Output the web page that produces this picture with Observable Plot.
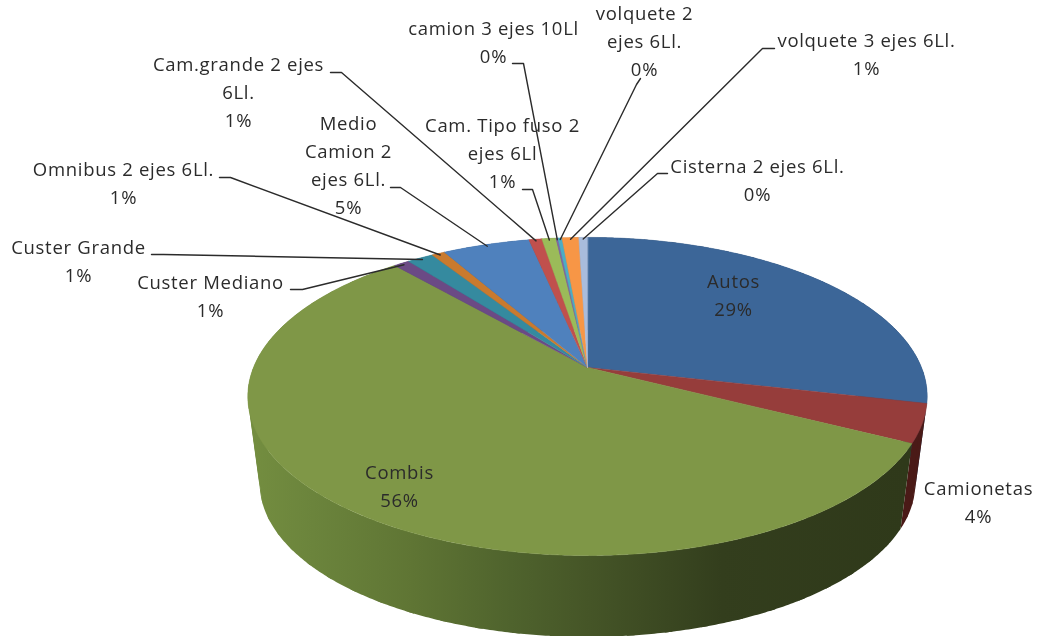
<!DOCTYPE html>
<html>
<head>
<meta charset="utf-8">
<script src="https://cdn.jsdelivr.net/npm/d3@7"></script>
<script src="https://cdn.jsdelivr.net/npm/@observablehq/plot@0.6"></script>
<style>
html,body{margin:0;padding:0;background:#fff}
svg{display:block}
</style>
</head>
<body>
<div id="chart"></div>
<script>
const categories = ["Autos","Camionetas","Combis","Custer Mediano","Custer Grande","Omnibus 2 ejes 6Ll.","Medio Camion 2 ejes 6Ll.","Cam.grande 2 ejes 6Ll.","Cam. Tipo fuso 2 ejes 6Ll","camion 3 ejes 10Ll","volquete 2 ejes 6Ll.","volquete 3 ejes 6Ll.","Cisterna 2 ejes 6Ll."];
const shares = [28.6,3.9,56.1,0.9,1.49,0.75,4.95,0.73,0.8,0.11,0.23,0.95,0.49];
const percentLabels = ["29%","4%","56%","1%","1%","1%","5%","1%","1%","0%","0%","1%","0%"];
const labelLines = [["Autos"],["Camionetas"],["Combis"],["Custer Mediano"],["Custer Grande"],["Omnibus 2 ejes 6Ll."],["Medio","Camion 2","ejes 6Ll."],["Cam.grande 2 ejes","6Ll."],["Cam. Tipo fuso 2","ejes 6Ll"],["camion 3 ejes 10Ll"],["volquete 2","ejes 6Ll."],["volquete 3 ejes 6Ll."],["Cisterna 2 ejes 6Ll."]];
const topColors = ["#3c6698","#963d3b","#7f9747","#6b4a85","#358a9f","#c97a2e","#4f81bd","#c0504d","#9bbb59","#8064a2","#4bacc6","#f79646","#a9bcdc"];
const sideColors = ["#27405f","#4a1a17","url(#combisSide)","#43305a","#235a68","#7f4d1d","#32527a","#7a3331","#627638","#514068","#2f6d7e","#9c5f2c","#6b778c"];

// label placement (block centre) and leader-line elbows, in chart pixels
const labelX = [733,978,399,210,78,123,348,238,502,493,644,866,757];
const labelY = [296,503,487,297,262,184,166,93,154,43,42,55,181];
const leaderPaths = [null,null,null,[[290,289],[302,289]],[[151,254],[163,254]],[[219,177],[230,177]],[[390,187],[400,187]],[[330,72],[341,72]],[[522,189],[532,189]],[[512,63],[523,63]],[[640,78],[636,84]],[[774,48],[762,48]],[[667,173],[657,173]]];

// pie geometry: a disc seen in perspective
const cx = 587, cy = 367, a = 334, b = 153.8, k = 0.182, depthScale = 0.965, vanishY = 2880;
const project = (t, r = 1) => {
  const u = r * Math.sin(t), v = -r * Math.cos(t), w = 1 - k * v;
  return [cx + a * u / w, cy + b * v / w];
};
const lower = ([x, y]) => [cx + depthScale * (x - cx), vanishY + depthScale * (y - vanishY)];

const total = d3.sum(shares);
const ends = Array.from(d3.cumsum(shares), (s) => (s / total) * 2 * Math.PI);
const slices = categories.map((name, i) => ({name, i, t0: i ? ends[i - 1] : 0, t1: ends[i]}));
const arc = (t0, t1, step = 0.008) => {
  const n = Math.max(2, Math.ceil((t1 - t0) / step));
  return d3.range(n + 1).map((j) => t0 + (t1 - t0) * j / n);
};

const topRows = slices.flatMap((s) => [[cx, cy], ...arc(s.t0, s.t1).map((t) => project(t))]
  .map(([x, y]) => ({x, y, name: s.name, color: topColors[s.i]})));

// the side wall is cut into opaque overlapping sections so its fold at the silhouette still fills
const sectionSpan = 0.1, sectionOverlap = 0.02;
const sideRows = slices.flatMap((s) => {
  const count = Math.max(1, Math.ceil((s.t1 - s.t0) / sectionSpan));
  return d3.range(count).flatMap((j) => {
    const p = s.t0 + (s.t1 - s.t0) * j / count;
    const q = Math.min(s.t1, s.t0 + (s.t1 - s.t0) * (j + 1) / count + sectionOverlap);
    const rim = arc(p, q).map((t) => project(t));
    return [...rim, ...rim.map(lower).reverse()]
      .map(([x, y]) => ({x, y, name: `${s.name}-${j}`, color: sideColors[s.i]}));
  });
});
const leaderRows = slices.flatMap((s) => leaderPaths[s.i]
  ? [...leaderPaths[s.i], project((s.t0 + s.t1) / 2, 0.985)].map(([x, y]) => ({x, y, name: s.name}))
  : []);
const labelRows = slices.map((s) => ({
  x: labelX[s.i], y: labelY[s.i], text: [...labelLines[s.i], percentLabels[s.i]].join("\n")
}));

const gradient = () => {
  const ns = "http://www.w3.org/2000/svg";
  const defs = document.createElementNS(ns, "defs");
  const g = document.createElementNS(ns, "linearGradient");
  g.setAttribute("id", "combisSide");
  g.setAttribute("gradientUnits", "userSpaceOnUse");
  g.setAttribute("x1", 247); g.setAttribute("x2", 905); g.setAttribute("y1", 0); g.setAttribute("y2", 0);
  [[0,"#748e40"],[0.1,"#6b843c"],[0.25,"#5f7534"],[0.4,"#4f632d"],[0.52,"#455527"],[0.72,"#333e1d"],[1,"#2f391a"]].forEach(([o, c]) => {
    const st = document.createElementNS(ns, "stop");
    st.setAttribute("offset", o); st.setAttribute("stop-color", c);
    g.appendChild(st);
  });
  defs.appendChild(g);
  return defs;
};

const chart = Plot.plot({
  width: 1038, height: 636,
  margin: 0,
  x: {domain: [0, 1038], range: [0, 1038], axis: null},
  y: {domain: [0, 636], range: [0, 636], axis: null},
  color: {type: "identity"},
  style: {background: "#fff", letterSpacing: "0.7px", filter: "blur(0.4px)"},
  marks: [
    gradient,
    Plot.line(sideRows, {x: "x", y: "y", z: "name", fill: "color", stroke: "none", curve: "linear-closed"}),
    Plot.line(topRows, {x: "x", y: "y", z: "name", fill: "color", stroke: "color", strokeWidth: 0.5, curve: "linear-closed"}),
    Plot.line(leaderRows, {x: "x", y: "y", z: "name", stroke: "#2b2b2b", strokeWidth: 1.4}),
    Plot.text(labelRows, {x: "x", y: "y", dy: -3.5, text: "text", fill: "#2b2b2b", fontFamily: "Open Sans", fontSize: 18.5, lineHeight: 1.51, textAnchor: "middle"})
  ]
});
document.getElementById("chart").appendChild(chart);
</script>
</body>
</html>
